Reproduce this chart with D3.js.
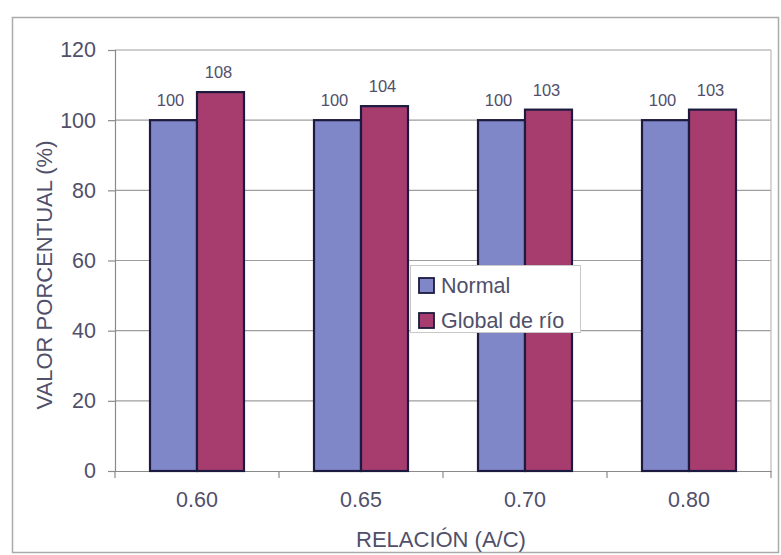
<!DOCTYPE html>
<html><head><meta charset="utf-8">
<script src="https://cdn.jsdelivr.net/npm/d3@7"></script>
<style>body{margin:0;background:#fff}svg{display:block}text{font-family:"Liberation Sans",Arial,sans-serif}</style>
</head><body><svg id="c" width="781" height="555"></svg>
<script>
const categories = ["0.60","0.65","0.70","0.80"];
const seriesNames = ["Normal","Global de río"];
const normalValues = [100,100,100,100];
const globalValues = [108,104,103,103];
const yTicks = [0,20,40,60,80,100,120];
const colors = ["#8087c8","#a73d6f"];

const svg = d3.select("#c");
const m = {left:115, right:771, top:50, bottom:471};
const textColor = "#50506a";

svg.append("rect").attr("x",12.5).attr("y",17.5).attr("width",766).attr("height",535)
  .attr("fill","#fff").attr("stroke","#aaa").attr("stroke-width",1.5);

const x = d3.scaleBand().domain(categories).range([m.left,m.right]).paddingInner(0).paddingOuter(0);
const xs = d3.scaleBand().domain(seriesNames).range([0,x.bandwidth()]).paddingInner(0).paddingOuter(0.745);
const y = d3.scaleLinear().domain([0,120]).range([m.bottom,m.top]);

const g = svg.append("g");
g.selectAll("line.grid").data(yTicks.filter(d=>d>0)).join("line")
  .attr("x1",m.left).attr("x2",m.right).attr("y1",d=>y(d)).attr("y2",d=>y(d))
  .attr("stroke","#9e9e9e").attr("stroke-width",1.2);
g.append("line").attr("x1",m.right).attr("x2",m.right).attr("y1",m.top).attr("y2",m.bottom)
  .attr("stroke","#bbb").attr("stroke-width",1.2);

const yAxis = d3.axisLeft(y).tickValues(yTicks).tickSize(7).tickPadding(12);
const ya = svg.append("g").attr("transform",`translate(${m.left},0)`).call(yAxis);
ya.select(".domain").attr("stroke","#8a8a8a").attr("stroke-width",1.2);
ya.selectAll(".tick line").attr("stroke","#8a8a8a").attr("stroke-width",1.2);
ya.selectAll("text").attr("font-size",21.5).attr("fill",textColor).attr("font-family","Liberation Sans, Arial");

const xAxis = d3.axisBottom(x).tickSize(0).tickPadding(21);
const xa = svg.append("g").attr("transform",`translate(0,${m.bottom})`).call(xAxis);
xa.select(".domain").attr("stroke","#8a8a8a").attr("stroke-width",1.2);
xa.selectAll("text").attr("font-size",21.5).attr("fill",textColor).attr("font-family","Liberation Sans, Arial");
xa.selectAll("line.bt").data(categories.map((c,i)=>i).concat([categories.length])).join("line")
  .attr("x1",i=>m.left+i*x.step()).attr("x2",i=>m.left+i*x.step())
  .attr("y1",0).attr("y2",7).attr("stroke","#8a8a8a").attr("stroke-width",1.2);

const data = categories.map((c,i)=>({c, vals:[normalValues[i],globalValues[i]]}));
const groups = svg.append("g").selectAll("g").data(data).join("g")
  .attr("transform",d=>`translate(${x(d.c)},0)`);
groups.selectAll("rect").data(d=>d.vals.map((v,j)=>({v,s:seriesNames[j],j}))).join("rect")
  .attr("x",d=>xs(d.s)).attr("width",xs.bandwidth())
  .attr("y",d=>y(d.v)).attr("height",d=>y(0)-y(d.v))
  .attr("fill",d=>colors[d.j]).attr("stroke","#1c1a3e").attr("stroke-width",2.2);
groups.selectAll("text").data(d=>d.vals.map((v,j)=>({v,s:seriesNames[j],j}))).join("text")
  .attr("x",d=>xs(d.s)+xs.bandwidth()/2 + (d.j===0?-3:-2)).attr("y",d=>y(d.v)-14)
  .attr("text-anchor","middle").attr("font-size",16.5).attr("fill",textColor).text(d=>d.v);

svg.append("text").attr("transform",`translate(52,275) rotate(-90)`)
  .attr("text-anchor","middle").attr("font-size",22).attr("fill",textColor).text("VALOR PORCENTUAL (%)");
svg.append("text").attr("x",441).attr("y",547).attr("text-anchor","middle")
  .attr("font-size",22).attr("fill",textColor).text("RELACIÓN (A/C)");

const lg = svg.append("g").attr("transform","translate(410,265)");
lg.append("rect").attr("x",0.5).attr("y",0.5).attr("width",170).attr("height",67)
  .attr("fill","#fff").attr("stroke","#c8c8c8").attr("stroke-width",1);
seriesNames.forEach((s,i)=>{
  const yy = 20 + i*35;
  lg.append("rect").attr("x",9).attr("y",yy-7).attr("width",15).attr("height",15)
    .attr("fill",colors[i]).attr("stroke","#1c1a3e").attr("stroke-width",1.8);
  lg.append("text").attr("x",31).attr("y",yy+7.5).attr("font-size",21.5).attr("fill",textColor).text(s);
});
</script></body></html>
